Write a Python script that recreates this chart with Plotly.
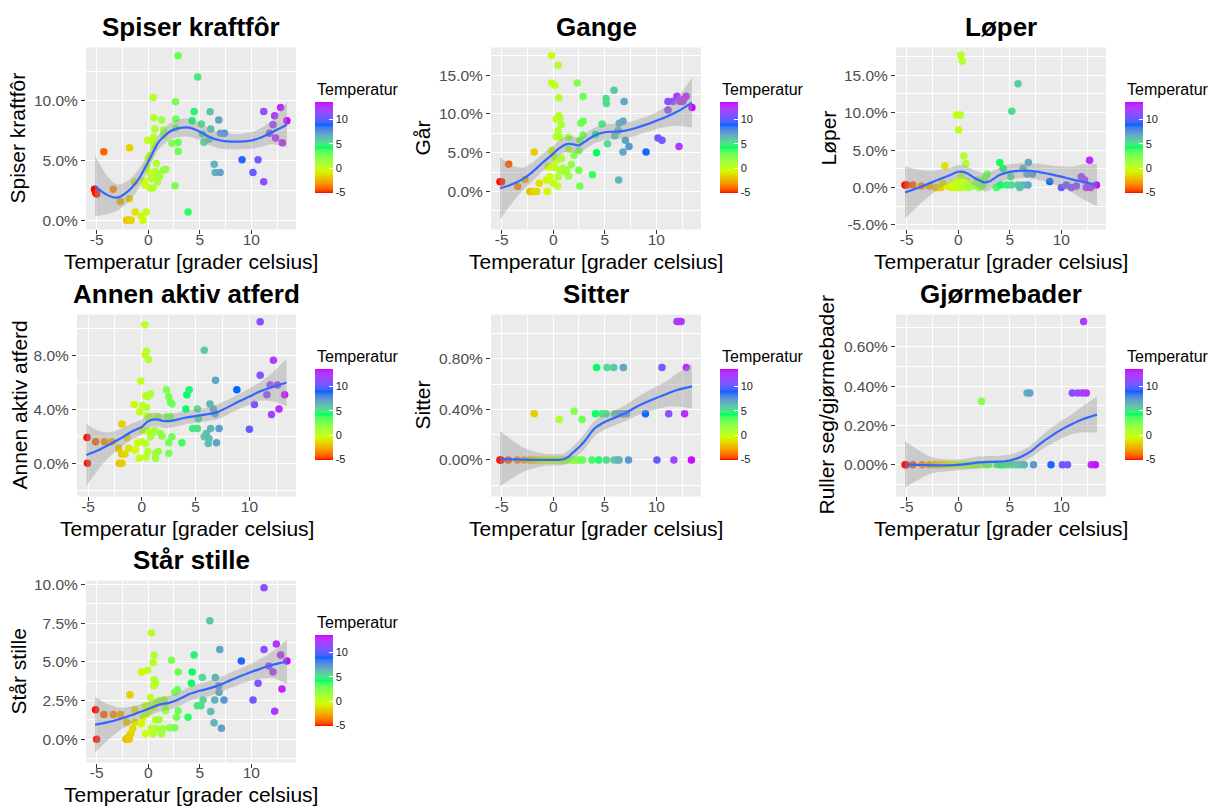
import plotly.graph_objects as go

W, H = 1217, 812

# ---------------- data ----------------
temp_ticks = [-5, 0, 5, 10]
temp_tick_labels = ["-5", "0", "5", "10"]
temp_min, temp_max = -5.2, 13.5

smooth_x = [-5.15, -4, -3, -2, -1, 0, 0.5, 1, 1.5, 2, 2.5, 3, 4, 5, 6, 7, 8, 9, 10, 11, 12, 13.45]

# Panel 1: Spiser kraftfôr
p1_x = [-5.2, -5.1, -5.0, -4.3, -3.4, -2.7, -1.8, -1.84, -2.1, -1.95, -1.8, -1.65, -1.26, -1.3, -0.65, -0.5,
        -0.2, -0.06, -0.3, -0.16, 0.0, 0.16, 0.2, 0.48, 0.55, 0.65, 0.55, 0.4, 0.55, 0.68, 0.7, 0.3, 0.48, 0.8,
        0.97, 1.3, 1.5, 1.5, 1.45, 1.7, 1.13, 2.3, 2.65, 2.68, 2.68, 2.6, 2.9, 2.9, 2.9, 3.87, 4.26, 4.45, 4.8,
        5.16, 5.26, 5.4, 6.0, 6.06, 5.9, 6.4, 6.5, 6.97, 6.84, 7.0, 7.4, 9.1, 10.16, 10.65, 11.2, 11.2, 11.77,
        12.1, 12.26, 12.35, 12.84, 13.0, 13.45, 0.1, -0.4, 0.9]
p1_y = [2.6, 2.3, 2.2, 5.75, 2.6, 1.57, 6.08, 1.8, 0.0, 0.0, 0.0, 0.0, 0.7, 3.2, 0.33, 0.0,
        0.7, 6.7, 2.95, 4.5, 5.2, 5.45, 2.7, 10.3, 8.6, 7.65, 6.96, 6.6, 6.1, 4.06, 3.65, 3.5, 2.7, 4.75,
        3.9, 8.4, 7.57, 7.1, 4.2, 4.28, 3.7, 6.46, 9.94, 8.48, 7.73, 2.9, 13.8, 6.55, 5.77, 0.7, 8.34, 9.12, 12.0,
        8.07, 7.24, 6.55, 9.1, 7.65, 6.8, 4.7, 4.0, 4.0, 8.4, 7.3, 7.3, 5.08, 4.0, 5.08, 9.12, 3.23, 7.3,
        8.0, 8.76, 6.9, 9.45, 6.5, 8.34, 4.0, 3.3, 3.2]
p1_fit = [2.87, 2.13, 1.9, 2.4, 3.37, 4.9, 5.75, 6.55, 7.0, 7.38, 7.6, 7.73, 7.76, 7.43, 6.96, 6.69, 6.6, 6.6, 6.69, 6.96, 7.38, 8.0]
p1_lo = [0.32, 0.53, 0.8, 1.5, 2.57, 4.25, 5.15, 5.95, 6.35, 6.68, 6.9, 6.98, 7.01, 6.73, 6.26, 5.99, 5.95, 5.95, 5.99, 6.16, 6.38, 6.1]
p1_hi = [5.42, 3.73, 3.0, 3.3, 4.17, 5.55, 6.35, 7.15, 7.65, 8.08, 8.3, 8.48, 8.51, 8.13, 7.66, 7.39, 7.25, 7.25, 7.39, 7.76, 8.38, 9.9]

# Panel 2: Gange
p2_x = [-5.16, -5.0, -4.32, -3.45, -2.74, -1.84, -2.26, -2.0, -1.8, -1.6, -1.35, -0.58, -0.65, -0.16, -0.16, 0.16,
        0.48, 0.55, 0.55, 0.65, 0.3, 0.8, 0.48, 0.3, 0.65, -0.16, 0.06, 0.3, 0.8, -0.1, 0.16, -0.48, -0.32, 0.0,
        0.42, 0.48, 0.65, 0.97, 1.13, 1.5, 1.5, 1.5, 1.3, 1.77, 2.03, 2.32, 2.5, 2.58, 2.48, 2.58, 2.68, 2.9, 2.9,
        2.9, 3.8, 4.2, 4.1, 4.74, 5.13, 5.16, 5.26, 5.9, 5.97, 6.3, 6.4, 6.77, 6.87, 6.35, 6.77, 7.0, 7.35, 9.0,
        10.16, 10.55, 11.13, 11.13, 11.6, 12.0, 12.3, 12.65, 12.9, 12.55, 12.2, 13.45]
p2_y = [1.27, 1.27, 3.53, 0.64, 1.57, 5.1, 0.0, 0.0, 0.0, 0.0, 1.06, 0.0, 1.5, 17.55, 14.0, 13.7,
        16.3, 12.1, 9.77, 9.56, 9.35, 8.63, 7.86, 7.1, 7.0, 5.3, 4.55, 4.0, 4.25, 3.2, 3.1, 3.2, 1.9, 1.06,
        0.72, 1.9, 2.76, 3.0, 2.55, 7.0, 5.44, 2.0, 2.76, 3.5, 4.67, 14.0, 5.27, 6.6, 2.76, 0.72, 8.8, 9.05, 12.24,
        7.3, 2.17, 5.0, 7.35, 8.7, 12.0, 11.35, 6.16, 13.05, 7.2, 7.86, 8.8, 9.05, 11.6, 1.49, 5.1, 6.6, 5.82, 5.1,
        6.9, 6.6, 11.6, 10.5, 11.6, 12.3, 11.6, 11.9, 12.3, 11.6, 5.82, 10.84]
p2_fit = [0.42, 0.93, 1.57, 2.55, 3.74, 4.89, 5.5, 5.95, 6.16, 6.08, 5.95, 6.37, 7.22, 7.65, 7.73, 7.86, 8.2, 8.63, 9.14, 9.65, 10.28, 11.47]
p2_lo = [-3.6, -1.5, 0.07, 1.35, 2.64, 3.89, 4.5, 4.95, 5.16, 5.08, 4.95, 5.37, 6.22, 6.65, 6.73, 6.86, 7.2, 7.63, 8.04, 8.35, 8.48, 8.27]
p2_hi = [4.46, 3.36, 3.07, 3.75, 4.84, 5.89, 6.5, 6.95, 7.16, 7.08, 6.95, 7.37, 8.22, 8.65, 8.73, 8.86, 9.2, 9.63, 10.24, 10.95, 12.08, 14.67]

# Panel 3: Løper
p3_x = [-5.16, -5.0, -4.4, -3.55, -2.8, -2.2, -1.94, -1.7, -1.3, -1.5, -0.97, -0.16, 0.2, 0.06, 0.26, 0.39,
        0.55, 0.74, 0.3, 0.8, -0.3, 0.0, 0.2, 0.4, 0.6, 0.8, 1.0, 1.2, 1.5, 1.7, -0.5, 0.1, 0.5, 2.0, 2.3, 1.9,
        0.3, -0.1, -0.6, 2.42, 2.58, 2.8, 3.7, 4.1, 4.03, 4.35, 4.68, 5.16, 5.1, 5.2, 5.8, 5.8, 6.3, 6.3, 6.8,
        6.68, 7.2, 6.77, 5.97, 8.87, 10.0, 10.48, 10.97, 11.45, 11.94, 12.26, 12.42, 12.84, 12.74, 13.4]
p3_y = [0.35, 0.35, 0.35, 0.22, 0.22, 0.0, 0.0, 0.0, 2.9, 0.57, 0.13, 9.7, 9.7, 7.7, 17.7, 16.9,
        4.2, 3.2, 1.45, 0.8, 0.0, 0.0, 0.2, 0.0, 0.5, 0.3, 0.0, 0.3, 0.2, 0.4, 0.5, 0.9, 1.0, 0.0, 0.2, 1.0,
        0.4, 0.6, 0.0, 0.35, 1.23, 1.8, 0.0, 0.35, 3.35, 2.55, 0.35, 0.35, 1.45, 10.18, 13.87, 0.35, 0.35, 2.55, 3.35,
        1.8, 1.8, 0.35, 0.0, 0.8, 0.0, 0.35, 0.0, 0.22, 1.45, 1.0, 0.0, 0.0, 3.65, 0.35]
p3_fit = [-0.66, -0.09, 0.44, 1.01, 1.54, 2.11, 2.1, 1.8, 1.35, 1.0, 0.7, 0.8, 1.67, 2.1, 2.24, 2.24, 2.03, 1.76, 1.45, 1.1, 0.79, 0.35]
p3_lo = [-4.1, -2.6, -1.36, -0.29, 0.54, 1.21, 1.2, 0.9, 0.35, -0.1, -0.5, -0.4, 0.67, 1.1, 1.24, 1.24, 0.93, 0.56, 0.05, -0.6, -1.51, -2.45]
p3_hi = [2.8, 2.4, 2.24, 2.31, 2.54, 3.01, 3.0, 2.7, 2.35, 2.1, 1.9, 2.0, 2.67, 3.1, 3.24, 3.24, 3.13, 2.96, 2.85, 2.8, 3.09, 3.15]

# Panel 4: Annen aktiv atferd
p4_x = [-5.1, -5.06, -4.3, -3.47, -2.77, -2.15, -1.85, -2.1, -1.85, -1.88, -1.57, -1.4, -1.23, -0.71, -0.62, -0.4,
        -0.1, -0.2, 0.06, 0.27, 0.45, 0.3, 0.6, 0.36, 0.8, 0.55, 0.42, 0.5, 0.72, 0.06, 0.5, -0.03, 0.36, -0.25,
        0.36, 0.55, 0.8, 0.97, 1.21, 1.28, 1.52, 1.28, 1.52, 1.73, 1.89, 2.28, 2.5, 2.65, 2.8, 2.35, 2.65, 2.5,
        2.8, 2.5, 3.72, 4.09, 4.18, 4.4, 4.73, 5.16, 5.16, 5.25, 5.8, 5.8, 6.0, 6.17, 6.23, 6.39, 6.33, 6.65,
        6.8, 6.85, 6.94, 7.18, 8.83, 10.0, 10.46, 11.0, 11.0, 11.62, 11.93, 12.05, 12.23, 12.75, 12.6, 13.27]
p4_y = [1.9, 0.0, 1.6, 1.6, 1.6, 1.1, 2.9, 0.0, 0.0, 0.68, 0.68, 1.9, 1.1, 4.35, 0.98, 1.5,
        6.1, 3.8, 4.28, 10.27, 8.3, 8.07, 7.7, 5.0, 5.13, 4.94, 4.15, 3.5, 3.42, 2.45, 2.4, 1.6, 1.47, 0.37,
        0.44, 0.86, 1.96, 2.2, 2.45, 0.73, 0.86, 0.37, 3.42, 2.2, 2.0, 5.45, 4.94, 4.52, 4.4, 3.47, 3.47, 1.52,
        1.96, 0.73, 1.52, 4.03, 5.08, 5.45, 2.57, 2.57, 4.03, 3.3, 8.38, 1.96, 2.2, 1.47, 1.83, 2.57, 4.4, 4.03,
        3.67, 6.16, 1.52, 2.57, 5.45, 2.52, 4.35, 10.5, 6.53, 5.08, 5.8, 3.62, 7.63, 4.03, 5.8, 5.08]
p4_fit = [0.61, 0.98, 1.39, 1.83, 2.32, 2.69, 3.06, 3.23, 3.23, 3.13, 3.12, 3.18, 3.37, 3.5, 3.62, 3.79, 4.16, 4.57, 4.94, 5.33, 5.62, 5.99]
p4_lo = [-1.69, -0.42, 0.49, 1.13, 1.72, 2.14, 2.51, 2.73, 2.73, 2.63, 2.62, 2.68, 2.87, 3.0, 3.12, 3.24, 3.61, 4.02, 4.34, 4.63, 4.62, 4.24]
p4_hi = [2.91, 2.38, 2.29, 2.53, 2.92, 3.24, 3.61, 3.73, 3.73, 3.63, 3.62, 3.68, 3.87, 4.0, 4.12, 4.34, 4.71, 5.12, 5.54, 6.03, 6.62, 7.74]

# Panel 5: Sitter
p5_x = [-5.16, -5.05, -4.35, -3.48, -2.84, -2.3, -2.05, -1.85, -1.6, -1.35, -1.1, -0.8, -0.55, -0.3, 0.0, 0.2,
        0.4, 0.7, 0.9, 1.1, 1.4, 1.7, 2.0, 2.3, 2.6, 2.85, 3.76, 4.42, 5.16, 5.9, 6.2, 6.4, 7.3, 10.06, 11.7, 13.4,
        -1.84, 0.58, 2.03, 2.8, 4.1, 4.2, 5.23, 5.87, 6.8, 4.74, 5.13, 5.97, 6.39, 6.77, 7.1, 8.94, 10.55, 11.2,
        12.74, 12.9, 12.0, 12.2, 12.4]
p5_y = [0.0, 0.0, 0.0, 0.0, 0.0, 0.0, 0.0, 0.0, 0.0, 0.0, 0.0, 0.0, 0.0, 0.0, 0.0, 0.0,
        0.0, 0.0, 0.0, 0.0, 0.0, 0.0, 0.0, 0.0, 0.0, 0.0, 0.0, 0.0, 0.0, 0.0, 0.0, 0.0, 0.0, 0.0, 0.0, 0.0,
        0.365, 0.32, 0.385, 0.32, 0.365, 0.73, 0.73, 0.73, 0.73, 0.365, 0.365, 0.365, 0.365, 0.365, 0.365, 0.365, 0.73, 0.365,
        0.365, 0.73, 1.094, 1.094, 1.094]
p5_fit = [0.008, 0.005, 0.003, 0.0, 0.0, 0.0, 0.001, 0.005, 0.026, 0.065, 0.1, 0.143, 0.248, 0.3, 0.334, 0.37, 0.417, 0.456, 0.49, 0.521, 0.552, 0.581]
p5_lo = [-0.21, -0.145, -0.097, -0.07, -0.05, -0.045, -0.044, -0.04, -0.022, 0.015, 0.045, 0.083, 0.188, 0.24, 0.274, 0.305, 0.347, 0.376, 0.4, 0.421, 0.422, 0.406]
p5_hi = [0.23, 0.155, 0.103, 0.07, 0.05, 0.045, 0.046, 0.05, 0.074, 0.115, 0.155, 0.203, 0.308, 0.36, 0.394, 0.435, 0.487, 0.536, 0.58, 0.621, 0.682, 0.756]

# Panel 6: Gjørmebader
p6_x = [-5.15, -5.05, -4.4, -3.5, -2.8, -2.3, -2.0, -1.8, -1.5, -1.2, -0.9, -0.5, -0.2, 0.1, 0.4, 0.7,
        1.0, 1.3, 1.6, 1.9, 2.6, 2.9, 3.8, 4.1, 4.4, 4.8, 5.2, 5.6, 6.0, 6.4, 7.3, 9.0, 10.1, 10.6, 12.9, 13.3,
        2.26, 6.68, 6.94, 11.06, 11.6, 12.03, 12.42, 12.16]
p6_y = [0.0, 0.0, 0.0, 0.0, 0.0, 0.0, 0.0, 0.0, 0.0, 0.0, 0.0, 0.0, 0.0, 0.0, 0.0, 0.0,
        0.0, 0.0, 0.0, 0.0, 0.0, 0.0, 0.0, 0.0, 0.0, 0.0, 0.0, 0.0, 0.0, 0.0, 0.0, 0.0, 0.0, 0.0, 0.0, 0.0,
        0.323, 0.365, 0.365, 0.365, 0.365, 0.365, 0.365, 0.729]
p6_fit = [0.003, 0.0, -0.002, -0.003, -0.003, 0.0, 0.002, 0.005, 0.009, 0.012, 0.014, 0.015, 0.016, 0.022, 0.039, 0.067, 0.109, 0.146, 0.179, 0.206, 0.23, 0.255]
p6_lo = [-0.114, -0.08, -0.052, -0.038, -0.033, -0.028, -0.026, -0.023, -0.021, -0.018, -0.016, -0.015, -0.014, -0.008, 0.009, 0.037, 0.074, 0.106, 0.134, 0.156, 0.165, 0.163]
p6_hi = [0.12, 0.08, 0.048, 0.032, 0.027, 0.028, 0.03, 0.033, 0.039, 0.042, 0.044, 0.045, 0.046, 0.052, 0.069, 0.097, 0.144, 0.186, 0.224, 0.256, 0.295, 0.347]

# Panel 7: Står stille
p7_x = [-5.1, -5.0, -4.29, -3.39, -2.68, -2.1, -1.77, -2.16, -1.84, -1.93, -1.7, -1.5, -1.29, -1.29, -0.65, -0.06,
        -0.65, -0.48, -0.26, 0.0, 0.23, 0.32, 0.48, 0.58, 0.58, 0.71, 0.55, -0.26, 0.32, 0.48, -0.16, 0.1, 0.55,
        0.8, 0.74, 1.06, 0.8, 1.45, 1.29, 1.06, 1.55, 1.6, 1.68, 2.1, 2.58, 2.26, 2.58, 2.84, 2.9, 2.9, 2.74,
        3.87, 4.19, 4.26, 4.45, 4.77, 5.1, 5.26, 5.32, 5.97, 6.06, 6.39, 6.45, 6.5, 6.84, 6.87, 6.94, 7.1, 7.35,
        9.03, 10.16, 10.65, 11.23, 11.23, 11.7, 12.1, 12.26, 12.42, 12.84, 12.97, 13.45]
p7_y = [1.9, 0.0, 1.6, 1.6, 1.6, 1.1, 2.88, 0.0, 0.0, 0.15, 0.36, 0.68, 1.9, 1.1, 4.35, 4.46,
        1.0, 1.43, 2.17, 2.17, 2.7, 6.87, 4.95, 5.42, 3.84, 3.62, 3.45, 0.36, 0.72, 0.36, 1.64, 1.9, 2.07,
        2.32, 1.26, 1.26, 0.68, 0.68, 0.36, 2.5, 2.56, 2.28, 1.85, 0.75, 0.75, 5.1, 3.03, 3.2, 4.35, 1.85, 1.43,
        1.43, 3.62, 4.35, 5.44, 2.17, 2.17, 3.99, 2.54, 7.65, 1.79, 1.07, 2.54, 3.99, 3.45, 3.03, 5.8, 0.72, 2.54,
        5.05, 2.54, 3.62, 9.79, 5.8, 4.73, 4.35, 1.81, 6.16, 5.44, 3.24, 5.05]
p7_fit = [0.94, 1.09, 1.26, 1.47, 1.71, 1.96, 2.09, 2.22, 2.3, 2.35, 2.45, 2.6, 2.92, 3.13, 3.3, 3.52, 3.82, 4.09, 4.35, 4.58, 4.8, 5.01]
p7_lo = [-0.86, -0.11, 0.46, 0.87, 1.21, 1.51, 1.64, 1.77, 1.85, 1.9, 2.0, 2.15, 2.47, 2.68, 2.8, 3.02, 3.32, 3.59, 3.8, 3.93, 3.95, 3.57]
p7_hi = [2.74, 2.29, 2.06, 2.07, 2.21, 2.41, 2.54, 2.67, 2.75, 2.8, 2.9, 3.05, 3.37, 3.58, 3.8, 4.02, 4.32, 4.59, 4.9, 5.23, 5.65, 6.45]

titles = ["Spiser kraftfôr", "Gange", "Løper", "Annen aktiv atferd", "Sitter", "Gjørmebader", "Står stille"]
y_titles = ["Spiser kraftfôr", "Går", "Løper", "Annen aktiv atferd", "Sitter", "Ruller seg/gjørmebader", "Står stille"]
x_title = "Temperatur [grader celsius]"
legend_title = "Temperatur"

y_ticks = [[0, 5, 10], [0, 5, 10, 15], [-5, 0, 5, 10, 15], [0, 4, 8], [0, 0.4, 0.8], [0, 0.2, 0.4, 0.6],
           [0, 2.5, 5, 7.5, 10]]
y_tick_labels = [["0.0%", "5.0%", "10.0%"], ["0.0%", "5.0%", "10.0%", "15.0%"],
                 ["-5.0%", "0.0%", "5.0%", "10.0%", "15.0%"], ["0.0%", "4.0%", "8.0%"],
                 ["0.00%", "0.40%", "0.80%"], ["0.00%", "0.20%", "0.40%", "0.60%"],
                 ["0.0%", "2.5%", "5.0%", "7.5%", "10.0%"]]

series = [
    (p1_x, p1_y, p1_fit, p1_lo, p1_hi),
    (p2_x, p2_y, p2_fit, p2_lo, p2_hi),
    (p3_x, p3_y, p3_fit, p3_lo, p3_hi),
    (p4_x, p4_y, p4_fit, p4_lo, p4_hi),
    (p5_x, p5_y, p5_fit, p5_lo, p5_hi),
    (p6_x, p6_y, p6_fit, p6_lo, p6_hi),
    (p7_x, p7_y, p7_fit, p7_lo, p7_hi),
]

# ---------------- layout geometry (pixels) ----------------
# plot boxes: left, right, top, bottom
boxes = [(86, 296, 43, 227), (491, 701, 43, 227), (896, 1106, 43, 227),
         (77, 296, 313, 497), (491, 701, 313, 497), (896, 1106, 313, 497),
         (86, 296, 582, 766)]
y_ranges = [(-0.77, 14.48), (-4.89, 18.57), (-5.6, 18.7), (-2.47, 11.03), (-0.289, 1.149), (-0.161, 0.764),
            (-1.5, 10.25)]
ytitle_x = [18, 423, 829, 20, 423, 827, 19]
x_range = (-6.03, 14.33)


# ---------------- colour scale (ggplot-like Lab interpolation) ----------------
def _hex_to_rgb(h):
    h = h.lstrip("#")
    return [int(h[i:i + 2], 16) for i in (0, 2, 4)]


def _rgb_to_lab(rgb):
    def lin(c):
        c = c / 255.0
        return c / 12.92 if c <= 0.04045 else ((c + 0.055) / 1.055) ** 2.4
    r, g, b = [lin(c) for c in rgb]
    X = (0.4124 * r + 0.3576 * g + 0.1805 * b) / 0.95047
    Y = (0.2126 * r + 0.7152 * g + 0.0722 * b) / 1.0
    Z = (0.0193 * r + 0.1192 * g + 0.9505 * b) / 1.08883

    def f(t):
        return t ** (1 / 3) if t > 0.008856 else 7.787 * t + 16 / 116
    fx, fy, fz = f(X), f(Y), f(Z)
    return [116 * fy - 16, 500 * (fx - fy), 200 * (fy - fz)]


def _lab_to_hex(lab):
    L, a, b = lab
    fy = (L + 16) / 116
    fx = fy + a / 500
    fz = fy - b / 200

    def finv(t):
        return t ** 3 if t ** 3 > 0.008856 else (t - 16 / 116) / 7.787
    X, Y, Z = finv(fx) * 0.95047, finv(fy), finv(fz) * 1.08883
    r = 3.2406 * X - 1.5372 * Y - 0.4986 * Z
    g = -0.9689 * X + 1.8758 * Y + 0.0415 * Z
    bb = 0.0557 * X - 0.2040 * Y + 1.0570 * Z

    def gam(c):
        c = 12.92 * c if c <= 0.0031308 else 1.055 * (max(c, 0) ** (1 / 2.4)) - 0.055
        return max(0, min(255, int(round(c * 255))))
    return "#%02X%02X%02X" % (gam(r), gam(g), gam(bb))


anchor_cols = ["#FF0000", "#CCFF00", "#00FF66", "#0066FF", "#CC00FF"]
anchor_labs = [_rgb_to_lab(_hex_to_rgb(c)) for c in anchor_cols]
n_stops = 48
colorscale = []
for i in range(n_stops + 1):
    t = i / n_stops
    seg = min(int(t * 4), 3)
    u = t * 4 - seg
    l0, l1 = anchor_labs[seg], anchor_labs[seg + 1]
    lab = [l0[k] + (l1[k] - l0[k]) * u for k in range(3)]
    colorscale.append([t, _lab_to_hex(lab)])

# ---------------- figure ----------------
fig = go.Figure()
FONT = "Liberation Sans, Arial, sans-serif"


def px_x(p):
    return p / W


def px_y(p):
    return 1 - p / H


annotations = []
layout = dict(
    width=W, height=H, autosize=False,
    margin=dict(l=0, r=0, t=0, b=0),
    paper_bgcolor="white", plot_bgcolor="#EBEBEB",
    showlegend=False,
    font=dict(family=FONT),
)

for i, (xs, ys, fit, lo, hi) in enumerate(series):
    n = i + 1
    sfx = "" if n == 1 else str(n)
    xa, ya = "x" + sfx, "y" + sfx
    ca = "coloraxis" + sfx
    l, r, t, b = boxes[i]

    fig.add_trace(go.Scatter(
        x=xs, y=ys, mode="markers", xaxis=xa, yaxis=ya,
        marker=dict(size=7.5, color=xs, coloraxis=ca, line=dict(width=0)),
        hoverinfo="skip"))
    fig.add_trace(go.Scatter(
        x=smooth_x, y=lo, mode="lines", xaxis=xa, yaxis=ya,
        line=dict(width=0, shape="spline", smoothing=0.8), hoverinfo="skip"))
    fig.add_trace(go.Scatter(
        x=smooth_x, y=hi, mode="lines", xaxis=xa, yaxis=ya, fill="tonexty",
        fillcolor="rgba(153,153,153,0.4)",
        line=dict(width=0, shape="spline", smoothing=0.8), hoverinfo="skip"))
    fig.add_trace(go.Scatter(
        x=smooth_x, y=fit, mode="lines", xaxis=xa, yaxis=ya,
        line=dict(color="#3366FF", width=2.2, shape="spline", smoothing=0.8), hoverinfo="skip"))

    yt = y_ticks[i]
    step = yt[1] - yt[0]
    y_minor = [yt[0] - step / 2] + [v + step / 2 for v in yt]

    layout["xaxis" + sfx] = dict(
        domain=[px_x(l), px_x(r)], anchor=ya, range=list(x_range),
        tickvals=temp_ticks, ticktext=temp_tick_labels,
        showgrid=True, gridcolor="white", gridwidth=1.3, zeroline=False, showline=False,
        ticks="outside", ticklen=4, tickcolor="#333333", tickwidth=1, ticklabelstandoff=-8,
        tickfont=dict(size=15.5, color="#4D4D4D", family=FONT),
        minor=dict(tickvals=[-2.5, 2.5, 7.5, 12.5], showgrid=True, gridcolor="white", gridwidth=0.6, ticks=""),
        fixedrange=True)
    layout["yaxis" + sfx] = dict(
        domain=[px_y(b), px_y(t)], anchor=xa, range=list(y_ranges[i]),
        tickvals=yt, ticktext=y_tick_labels[i],
        showgrid=True, gridcolor="white", gridwidth=1.3, zeroline=False, showline=False,
        ticks="outside", ticklen=4, tickcolor="#333333", tickwidth=1, ticklabelstandoff=0,
        tickfont=dict(size=15.5, color="#4D4D4D", family=FONT),
        minor=dict(tickvals=y_minor, showgrid=True, gridcolor="white", gridwidth=0.6, ticks=""),
        fixedrange=True)

    # colour bar (legend)
    bar_left = r + 19
    bar_cy = (t + b) / 2 + 9.5
    layout[ca] = dict(
        colorscale=colorscale, cmin=temp_min, cmax=temp_max,
        colorbar=dict(
            x=px_x(bar_left), xanchor="left", xpad=0, ypad=0,
            y=px_y(bar_cy), yanchor="middle",
            len=91, lenmode="pixels", thickness=18, thicknessmode="pixels",
            outlinewidth=0, tickvals=temp_ticks, ticktext=temp_tick_labels,
            ticks="inside", ticklen=4, tickcolor="white",
            tickfont=dict(size=11, color="#1A1A1A", family=FONT)))

    cx = (l + r) / 2
    cy = (t + b) / 2
    # panel title
    annotations.append(dict(
        text="<b>" + titles[i] + "</b>", x=px_x(cx), y=px_y(t - 21), xref="paper", yref="paper",
        xanchor="center", yanchor="middle", showarrow=False,
        font=dict(size=26, color="black", family=FONT)))
    # x axis title
    annotations.append(dict(
        text=x_title, x=px_x(cx), y=px_y(b + 32), xref="paper", yref="paper",
        xanchor="center", yanchor="middle", showarrow=False,
        font=dict(size=21, color="black", family=FONT)))
    # y axis title
    annotations.append(dict(
        text=y_titles[i], x=px_x(ytitle_x[i]), y=px_y(cy), xref="paper", yref="paper",
        xanchor="center", yanchor="middle", showarrow=False, textangle=-90,
        font=dict(size=21, color="black", family=FONT)))
    # legend title
    annotations.append(dict(
        text=legend_title, x=px_x(bar_left), y=px_y(t + 42), xref="paper", yref="paper",
        xanchor="left", yanchor="middle", showarrow=False,
        font=dict(size=16, color="black", family=FONT)))

layout["annotations"] = annotations
fig.update_layout(**layout)
fig.write_html("out.html")
